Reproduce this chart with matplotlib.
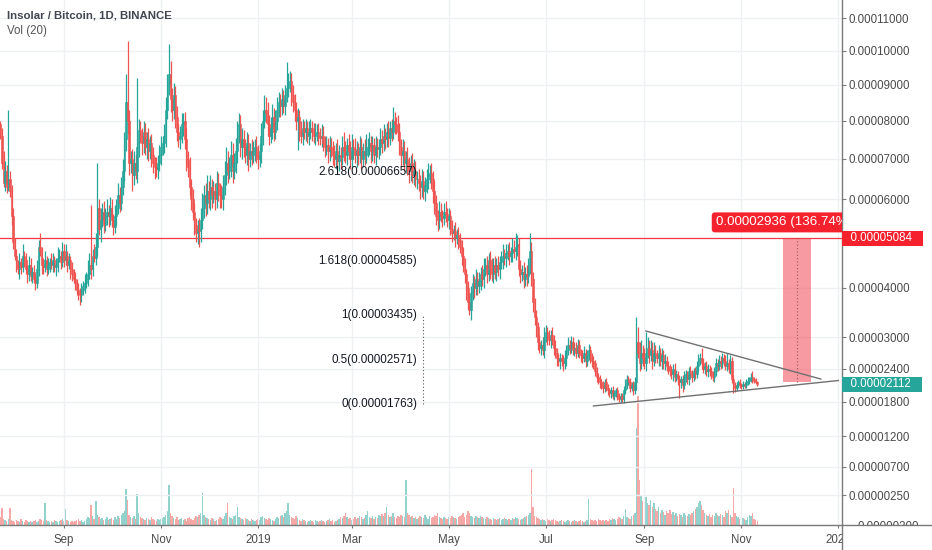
import matplotlib
matplotlib.use("Agg")
import numpy as np
import pandas as pd
import matplotlib.pyplot as plt
import matplotlib.dates as mdates
from matplotlib.colors import to_rgba
from matplotlib.lines import Line2D
from matplotlib.transforms import Bbox, TransformedBbox

plt.rcParams['font.family'] = ['Liberation Sans', 'DejaVu Sans']

# daily closes in satoshi (0.00000001 BTC), one per day, last candle 2019-11-11
close = [
    7600, 6900, 6400, 6700, 6300, 6500, 6200, 5600, 5000, 4700,
    4500, 4400, 4550, 4450, 4700, 4600, 4400, 4300, 4500, 4250,
    4350, 4200, 4100, 4400, 4900, 4800, 4500, 4450, 4600, 4400,
    4500, 4550, 4500, 4600, 4450, 4500, 4650, 4700, 4550, 4800,
    4600, 4700, 4500, 4600, 4400, 4300, 4200, 4100, 3950, 3900,
    3850, 3950, 4050, 4100, 4200, 4300, 4500, 4400, 4700, 4650,
    4900, 5800, 5300, 5500, 5700, 5400, 5600, 5700, 5600, 5800,
    5500, 5350, 5600, 5800, 6100, 5900, 6300, 6700, 7500, 8500,
    8000, 6900, 7000, 6600, 6900, 6700, 7300, 7750, 7600, 7400,
    7700, 7300, 7500, 7200, 7400, 7100, 6900, 6800, 6750, 6900,
    7100, 7300, 7400, 7600, 8300, 9000, 9300, 8600, 8300, 8700,
    8100, 7700, 7500, 7600, 7900, 8000, 7500, 7000, 6800, 6300,
    6000, 5700, 5400, 5200, 5300, 5250, 5500, 5800, 6100, 5900,
    6200, 6000, 6300, 6100, 6200, 6000, 6400, 6200, 6100, 6000,
    6300, 6600, 6900, 6700, 6800, 7100, 6700, 6900, 7200, 7600,
    7900, 7300, 7500, 7300, 7100, 7400, 7000, 7200, 7100, 7200,
    7300, 7100, 7000, 7200, 7600, 8000, 8300, 8200, 7900, 7600,
    7800, 8100, 7700, 8000, 8300, 8500, 8400, 8600, 8400, 8700,
    8900, 9000, 9100, 8700, 8500, 8300, 8000, 8100, 7700, 7600,
    7800, 7700, 7800, 7600, 7700, 7800, 7700, 7600, 7650, 7700,
    7600, 7550, 7600, 7400, 7300, 7350, 7200, 7300, 7250, 7100,
    7000, 7200, 6950, 7100, 7050, 7300, 7200, 7100, 7350, 7200,
    7000, 7300, 7250, 7100, 7200, 7100, 7300, 7000, 7200, 7100,
    7300, 7300, 7400, 7200, 7350, 7100, 7300, 7250, 7300, 7500,
    7400, 7600, 7500, 7700, 7550, 7800, 7700, 8000, 7900, 7850,
    7700, 7300, 7100, 7200, 6900, 7000, 6800, 6700, 6900, 6600,
    6700, 6500, 6500, 6400, 6300, 6450, 6200, 6350, 6500, 6600,
    6650, 6500, 6200, 5900, 5600, 5500, 5700, 5600, 5550, 5700,
    5650, 5500, 5600, 5300, 5200, 5250, 5100, 5150, 5050, 4900,
    4700, 4500, 4300, 4000, 3700, 3550, 3900, 4100, 4000, 4200,
    4050, 4150, 4300, 4200, 4400, 4500, 4300, 4600, 4400, 4300,
    4500, 4350, 4500, 4400, 4550, 4600, 4700, 4650, 4750, 4800,
    4700, 4750, 4850, 4800, 4900, 4950, 4400, 4300, 4350, 4200,
    4300, 4250, 4500, 4800, 4200, 3700, 3400, 3200, 2900, 2800,
    2850, 2750, 3000, 3100, 3000, 2950, 3050, 2950, 2800, 2700,
    2600, 2550, 2600, 2550, 2500, 2600, 2750, 2850, 2800, 2900,
    2750, 2800, 2700, 2850, 2700, 2650, 2600, 2700, 2550, 2650,
    2750, 2600, 2550, 2500, 2350, 2250, 2200, 2150, 2100, 2050,
    2150, 2050, 2000, 1950, 2000, 1900, 1950, 2000, 1900, 1850,
    1900, 1850, 2000, 2100, 2200, 2150, 2050, 2100, 2000, 2150,
    2900, 2700, 2500, 2700, 2600, 2500, 2700, 2800, 2650, 2750,
    2550, 2700, 2650, 2600, 2700, 2550, 2650, 2500, 2550, 2450,
    2400, 2350, 2300, 2400, 2250, 2300, 2200, 2150, 2200, 2100,
    2250, 2300, 2200, 2350, 2300, 2250, 2350, 2300, 2450, 2550,
    2600, 2500, 2400, 2450, 2350, 2400, 2350, 2300, 2250, 2350,
    2500, 2450, 2550, 2500, 2600, 2550, 2450, 2500, 2400, 2550,
    2200, 2100, 2050, 2100, 2150, 2100, 2080, 2120, 2100, 2150,
    2180, 2200, 2250, 2200, 2180, 2150, 2112,
]
first_open = 7900

# wick lengths above / below the body, satoshi
up_wick = [
    100, 200, 300, 250, 150, 1800, 200, 150, 200, 100, 150, 100, 200, 100, 250, 100, 150, 100, 200, 150,
    100, 150, 100, 200, 150, 300, 100, 150, 200, 100, 150, 100, 200, 150, 100, 150, 250, 150, 100, 200,
    150, 250, 100, 150, 100, 150, 100, 150, 100, 150, 100, 150, 100, 200, 150, 300, 250, 1350, 150, 250,
    300, 1100, 200, 300, 200, 250, 200, 300, 150, 250, 200, 150, 250, 200, 300, 200, 250, 300, 200, 800,
    1800, 300, 200, 250, 300, 200, 1900, 300, 250, 200, 300, 250, 200, 300, 200, 250, 200, 150, 250, 200,
    250, 300, 200, 300, 350, 300, 900, 400, 300, 350, 250, 300, 200, 250, 300, 200, 250, 300, 200, 250,
    200, 250, 200, 150, 200, 250, 300, 350, 250, 300, 400, 250, 300, 200, 250, 200, 300, 250, 200, 250,
    300, 350, 400, 300, 250, 350, 300, 250, 350, 400, 300, 250, 300, 250, 200, 300, 250, 200, 300, 250,
    200, 300, 250, 200, 350, 300, 400, 350, 300, 250, 300, 350, 250, 300, 350, 300, 250, 300, 250, 300,
    760, 350, 300, 250, 300, 250, 200, 250, 200, 300, 250, 200, 250, 200, 300, 250, 200, 250, 300, 200,
    250, 200, 300, 250, 200, 250, 200, 300, 250, 200, 250, 200, 300, 250, 200, 300, 400, 250, 200, 300,
    250, 350, 200, 300, 250, 200, 300, 250, 200, 300, 350, 250, 300, 200, 250, 200, 300, 250, 200, 300,
    250, 300, 200, 250, 300, 200, 250, 370, 250, 200, 300, 250, 200, 300, 250, 200, 300, 250, 200, 250,
    300, 250, 200, 250, 200, 300, 250, 200, 250, 300, 200, 250, 200, 250, 200, 150, 250, 200, 150, 200,
    250, 150, 200, 150, 200, 150, 200, 150, 200, 150, 150, 200, 150, 100, 150, 200, 150, 200, 150, 200,
    150, 200, 150, 200, 250, 150, 200, 150, 200, 250, 150, 200, 150, 200, 150, 200, 250, 150, 200, 150,
    200, 150, 250, 200, 300, 200, 150, 200, 150, 200, 150, 200, 150, 400, 200, 150, 100, 150, 100, 150,
    100, 150, 200, 150, 100, 150, 100, 150, 100, 150, 100, 80, 100, 80, 100, 150, 100, 150, 100, 120,
    100, 80, 100, 120, 100, 80, 100, 120, 80, 100, 120, 80, 100, 80, 60, 80, 60, 80, 60, 80,
    60, 80, 60, 50, 60, 80, 60, 50, 60, 50, 60, 50, 80, 100, 80, 60, 80, 60, 80, 100,
    500, 300, 200, 250, 150, 200, 400, 200, 150, 200, 150, 200, 150, 100, 150, 100, 150, 100, 120, 80,
    100, 80, 100, 80, 100, 80, 60, 80, 60, 80, 100, 80, 60, 80, 100, 80, 60, 80, 100, 120,
    100, 200, 100, 80, 100, 80, 60, 80, 60, 80, 100, 80, 100, 80, 100, 80, 100, 200, 80, 100,
    60, 80, 60, 50, 40, 50, 40, 50, 40, 50, 60, 50, 60, 100, 50, 40, 30,
]
dn_wick = [
    100, 150, 100, 200, 150, 100, 150, 200, 150, 100, 150, 100, 200, 150, 100, 150, 100, 200, 150, 100,
    150, 100, 150, 100, 150, 100, 200, 150, 100, 150, 100, 150, 100, 150, 100, 200, 150, 100, 150, 100,
    150, 100, 150, 100, 200, 150, 100, 150, 100, 150, 200, 150, 100, 150, 100, 150, 100, 200, 150, 100,
    150, 200, 150, 300, 150, 200, 150, 200, 250, 200, 150, 200, 150, 200, 150, 200, 150, 200, 250, 300,
    350, 300, 250, 400, 250, 200, 300, 250, 200, 300, 250, 200, 300, 250, 200, 300, 250, 300, 200, 250,
    200, 250, 200, 250, 300, 250, 300, 350, 300, 250, 300, 250, 200, 250, 200, 300, 250, 300, 250, 200,
    250, 200, 250, 200, 250, 360, 250, 200, 250, 300, 250, 200, 250, 300, 200, 250, 200, 250, 300, 200,
    250, 200, 250, 300, 200, 250, 300, 200, 250, 300, 200, 250, 300, 250, 200, 250, 300, 200, 250, 200,
    250, 200, 250, 200, 300, 250, 200, 250, 300, 250, 200, 300, 250, 200, 250, 200, 300, 250, 200, 250,
    200, 250, 200, 300, 250, 300, 250, 775, 250, 200, 250, 200, 250, 200, 250, 200, 250, 200, 250, 200,
    250, 200, 250, 200, 250, 200, 300, 250, 200, 250, 200, 250, 200, 250, 300, 200, 250, 200, 250, 200,
    250, 200, 250, 200, 300, 250, 200, 250, 200, 250, 200, 250, 200, 300, 250, 200, 250, 200, 250, 200,
    250, 200, 250, 200, 250, 200, 250, 200, 250, 200, 250, 200, 300, 250, 200, 250, 200, 300, 250, 200,
    250, 200, 250, 200, 300, 250, 200, 250, 200, 250, 200, 250, 300, 250, 200, 250, 200, 150, 200, 150,
    200, 150, 200, 150, 200, 150, 200, 150, 200, 150, 200, 150, 200, 250, 150, 100, 200, 150, 200, 150,
    200, 150, 200, 150, 200, 150, 200, 150, 200, 150, 200, 150, 200, 150, 200, 150, 200, 150, 200, 150,
    200, 150, 200, 150, 200, 200, 150, 200, 150, 200, 150, 200, 150, 200, 150, 200, 150, 200, 150, 100,
    150, 100, 150, 100, 150, 100, 150, 100, 150, 100, 150, 100, 150, 100, 150, 100, 150, 100, 120, 100,
    100, 120, 100, 80, 100, 120, 100, 80, 120, 100, 80, 100, 120, 100, 80, 100, 80, 100, 80, 100,
    80, 60, 80, 60, 80, 60, 80, 60, 80, 60, 80, 60, 80, 60, 80, 60, 80, 60, 80, 60,
    150, 100, 150, 100, 150, 100, 150, 100, 150, 100, 150, 100, 150, 100, 150, 100, 150, 100, 120, 100,
    100, 80, 100, 120, 100, 80, 100, 280, 100, 120, 80, 100, 80, 100, 80, 100, 80, 100, 80, 100,
    80, 100, 80, 100, 80, 100, 80, 100, 80, 100, 80, 100, 80, 100, 80, 100, 80, 100, 80, 100,
    60, 150, 80, 60, 50, 60, 50, 60, 50, 60, 50, 60, 50, 60, 50, 40, 30,
]

# daily volume, relative units
volume = [
    8, 17, 6, 5, 4, 6, 17, 5, 4, 3, 5, 4, 3, 6, 4, 3, 5, 4, 3, 4,
    3, 4, 5, 3, 4, 6, 5, 4, 22, 5, 4, 3, 4, 3, 5, 4, 3, 4, 5, 6,
    4, 16, 5, 4, 3, 4, 3, 4, 5, 6, 4, 5, 3, 4, 6, 8, 7, 20, 9, 6,
    24, 10, 8, 6, 7, 5, 6, 8, 5, 6, 7, 5, 8, 6, 9, 7, 10, 12, 14, 36,
    25, 10, 8, 7, 9, 6, 31, 12, 8, 7, 6, 5, 7, 6, 5, 8, 6, 5, 4, 6,
    5, 6, 7, 8, 10, 14, 40, 12, 9, 7, 6, 8, 5, 6, 7, 5, 6, 4, 7, 8,
    6, 5, 7, 9, 8, 10, 12, 32, 10, 8, 7, 6, 5, 7, 6, 4, 5, 6, 8, 7,
    6, 9, 12, 22, 8, 7, 6, 9, 10, 18, 8, 7, 6, 5, 7, 6, 5, 4, 6, 5,
    4, 5, 6, 5, 8, 9, 7, 6, 5, 7, 6, 5, 4, 6, 8, 7, 9, 10, 8, 12,
    14, 22, 10, 8, 7, 6, 9, 7, 5, 4, 6, 5, 4, 3, 4, 5, 4, 3, 5, 4,
    3, 4, 5, 4, 3, 4, 5, 6, 4, 5, 3, 4, 5, 6, 8, 7, 9, 12, 8, 6,
    7, 5, 6, 8, 6, 7, 9, 8, 6, 7, 10, 14, 8, 7, 9, 6, 8, 7, 10, 9,
    11, 9, 12, 18, 10, 8, 9, 12, 8, 7, 9, 8, 10, 9, 8, 45, 12, 10, 8, 9,
    7, 8, 6, 7, 9, 8, 7, 10, 8, 6, 9, 7, 8, 10, 9, 12, 8, 7, 6, 8,
    7, 6, 8, 7, 9, 8, 7, 6, 8, 9, 10, 12, 8, 10, 14, 12, 9, 8, 7, 9,
    8, 7, 9, 8, 7, 6, 8, 7, 6, 5, 7, 6, 5, 6, 7, 5, 6, 7, 6, 5,
    6, 5, 7, 6, 8, 7, 6, 5, 6, 7, 8, 9, 10, 12, 56, 18, 9, 8, 7, 6,
    5, 6, 5, 4, 6, 5, 4, 5, 6, 5, 4, 3, 4, 5, 4, 3, 4, 5, 4, 3,
    4, 5, 4, 3, 4, 5, 4, 3, 4, 5, 26, 6, 5, 4, 5, 4, 6, 5, 4, 5,
    4, 5, 4, 6, 5, 7, 6, 5, 6, 8, 7, 6, 9, 16, 8, 7, 6, 9, 10, 12,
    97, 129, 45, 30, 24, 48, 28, 22, 20, 25, 18, 22, 16, 14, 18, 12, 15, 13, 10, 14,
    12, 15, 11, 13, 10, 12, 9, 11, 10, 8, 12, 10, 9, 11, 10, 12, 14, 16, 18, 22,
    24, 20, 15, 12, 10, 9, 11, 8, 10, 9, 12, 10, 9, 11, 10, 8, 14, 12, 15, 10,
    8, 37, 12, 9, 8, 6, 5, 7, 6, 5, 8, 10, 9, 12, 6, 5, 4,
]
last_day = '2019-11-11'

month_ticks = ['2018-09-01', '2018-11-01', '2019-01-01', '2019-03-01', '2019-05-01',
               '2019-07-01', '2019-09-01', '2019-11-01', '2020-01-01']
month_labels = ['Sep', 'Nov', '2019', 'Mar', 'May', 'Jul', 'Sep', 'Nov', '2020']
price_ticks = [11000, 10000, 9000, 8000, 7000, 6000, 4000, 3000, 2400, 1800, 1200, 700, 250]

fib_levels = ['2.618', '1.618', '1', '0.5', '0']
fib_prices = [6657, 4585, 3435, 2571, 1763]
fib_label_day = '2019-04-11'
fib_line_day = '2019-04-15'

hline_price = 5084
last_price = 2112

tri_upper_days = ['2019-09-02', '2019-12-21']
tri_upper_prices = [3122, 2207]
tri_lower_days = ['2019-07-31', '2020-01-01']
tri_lower_prices = [1722, 2180]

target_days = ['2019-11-27', '2019-12-15']
target_prices = [2148, 5084]
target_text = '0.00002936 (136.74%)'

for name, arr in [('up_wick', up_wick), ('dn_wick', dn_wick), ('volume', volume)]:
    assert len(arr) == len(close), (name, len(arr), len(close))

TEAL = '#26a69a'
RED = '#ef5350'
LABEL_RED = '#f5222d'
AXIS = '#7a7a7a'
GRID = '#eef0f4'
TXT = '#4a4a4a'


def fwd(v):
    with np.errstate(invalid='ignore', divide='ignore'):
        return np.log(np.asarray(v, dtype=float) / 1000.0 + 10.1)


def inv(v):
    return (np.exp(np.asarray(v, dtype=float)) - 10.1) * 1000.0


def d2n(d):
    return mdates.date2num(pd.to_datetime(d))


fig = plt.figure(figsize=(9.32, 5.5), dpi=100)
ax = fig.add_axes([0, 25 / 550, 842 / 932, 525 / 550])
axv = ax.twinx()
axv.set_ylim(0, 525)
axv.axis('off')
ax.set_zorder(axv.get_zorder() + 1)
ax.patch.set_visible(False)

ax.set_yscale('function', functions=(fwd, inv))

days = mdates.date2num(pd.date_range(end=last_day, periods=len(close), freq='D'))
c = np.array(close, dtype=float)
o = np.r_[first_open, c[:-1]]
rise = c >= o
top = np.maximum(o, c)
bot = np.minimum(o, c)
hi = top + np.array(up_wick)
lo = bot - np.array(dn_wick)
cols = np.where(rise, TEAL, RED)

# volume pane
vcols = [to_rgba(TEAL, 0.5) if r else to_rgba(RED, 0.5) for r in rise]
axv.bar(days, volume, width=0.9, color=vcols, linewidth=0)

# candles
ax.vlines(days, lo, hi, colors=cols, linewidth=0.9, zorder=3)
ax.bar(days, np.maximum(top - bot, 1), bottom=bot, width=0.9, color=cols,
       edgecolor=cols, linewidth=0.4, zorder=4)

# grid
sep1 = d2n('2018-09-01')
ax.set_xlim(sep1 - 40.25, sep1 + 489.3)
ax.set_ylim(-203, 11575)
ax.set_xticks(d2n(month_ticks))
ax.set_xticklabels(month_labels)
ax.set_yticks(price_ticks)
ax.set_yticklabels([f'{p / 1e8:.8f}' for p in price_ticks])
ax.yaxis.set_minor_locator(matplotlib.ticker.NullLocator())
ax.grid(True, color=GRID, linewidth=1, zorder=0)
ax.set_axisbelow(True)

ax.yaxis.tick_right()
ax.tick_params(axis='y', which='major', length=3, color=AXIS, labelsize=8.3,
               labelcolor=TXT, pad=2, direction='out')
ax.tick_params(axis='x', which='major', length=2.5, color=AXIS, labelsize=8.3,
               labelcolor=TXT, pad=4, direction='out')
for s in ['top', 'left']:
    ax.spines[s].set_visible(False)
for s in ['right', 'bottom']:
    ax.spines[s].set_color(AXIS)
    ax.spines[s].set_linewidth(1)

# last month label is cut by the price scale
clip_left = TransformedBbox(Bbox([[0, 0], [842 / 932, 1]]), fig.transFigure)
last_lbl = ax.xaxis.get_major_ticks()[-1].label1
last_lbl.set_clip_on(True)
last_lbl.set_clip_box(clip_left)

fig.add_artist(Line2D([842 / 932, 1], [25 / 550, 25 / 550], transform=fig.transFigure,
                      color=AXIS, linewidth=1))
fig.add_artist(Line2D([842 / 932, 842 / 932], [0, 25 / 550], transform=fig.transFigure,
                      color=AXIS, linewidth=1))
bottom_lbl = fig.text(857 / 932, 1 - 527 / 550, '0.00000200', fontsize=8.3, color=TXT,
                      va='center', ha='left')
bottom_lbl.set_clip_on(True)
bottom_lbl.set_clip_box(TransformedBbox(Bbox([[842 / 932, 25 / 550], [1, 1]]), fig.transFigure))

# horizontal resistance line
ax.axhline(hline_price, color='#f23645', linewidth=0.9, zorder=2)

# fibonacci labels
fx = d2n(fib_label_day)
for lvl, p in zip(fib_levels, fib_prices):
    ax.text(fx, p, f'{lvl}({p / 1e8:.8f})', ha='right', va='center', fontsize=8.4,
            color='#131722', zorder=5)
ax.vlines(d2n(fib_line_day), fib_prices[-1], fib_prices[2], colors='#555555',
          linestyles=(0, (1, 2)), linewidth=0.8, zorder=5)

# triangle
ax.plot(d2n(tri_upper_days), tri_upper_prices, color='#707070', linewidth=1, zorder=5)
ax.plot(d2n(tri_lower_days), tri_lower_prices, color='#707070', linewidth=1, zorder=5)

# target projection
tx = d2n(target_days)
ax.fill_between(tx, [target_prices[0]] * 2, [target_prices[1]] * 2, color='#f23645',
                alpha=0.5, linewidth=0, zorder=2)
tmid = (tx[0] + tx[1]) / 2
ax.vlines(tmid, target_prices[0], target_prices[1], colors='#9a5a5a',
          linestyles=(0, (1, 2)), linewidth=0.8, zorder=3)
ax.annotate(target_text, xy=(tmid, target_prices[1]), xytext=(-58.5, 11.5),
            textcoords='offset points', ha='left', va='center', color='white',
            fontsize=9.6, zorder=6, clip_on=True,
            bbox=dict(boxstyle='round,pad=0.3,rounding_size=0.25', fc=LABEL_RED, ec='none'))

# price scale labels
for p, fc in [(hline_price, LABEL_RED), (last_price, TEAL)]:
    ax.annotate(f'  {p / 1e8:.8f}   ', xy=(1, p), xycoords=('axes fraction', 'data'),
                xytext=(1.4, 0), textcoords='offset points', ha='left', va='center',
                color='white', fontsize=8.3, annotation_clip=False, zorder=7,
                bbox=dict(boxstyle='square,pad=0.15', fc=fc, ec='none'))

fig.text(7 / 932, 1 - 16 / 550, 'Insolar / Bitcoin, 1D, BINANCE', fontsize=8.2,
         fontweight='bold', color='#434651', va='center')
fig.text(7 / 932, 1 - 31 / 550, 'Vol (20)', fontsize=8.3, color='#555555', va='center')

fig.savefig('out.png', dpi=100)
